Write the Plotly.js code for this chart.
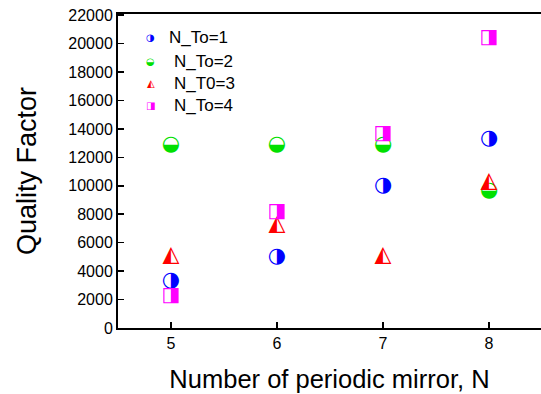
<!DOCTYPE html>
<html><head><meta charset="utf-8">
<script src="https://cdn.plot.ly/plotly-3.0.1.min.js"></script>
<style>html,body{margin:0;padding:0;background:#fff}#c{width:541px;height:394px}</style>
</head><body><div id="c"></div>
<script>
const periods = [5, 6, 7, 8];
const qTo1 = [3300, 5000, 10000, 13300];
const qTo2 = [12900, 12900, 12900, 9650];
const qTo3 = [5100, 7250, 5100, 10300];
const qTo4 = [2250, 8170, 13650, 20400];
const seriesNames = ['N_To=1', 'N_To=2', 'N_T0=3', 'N_To=4'];
const seriesGlyphs = ['\u25D1', '\u25D2', '\u25ED', '\u25E8'];
const seriesColors = ['#0000ff', '#00e000', '#ff0000', '#ff00ff'];
const seriesSizes = [21, 21, 22, 20];
const yTicks = [0,2000,4000,6000,8000,10000,12000,14000,16000,18000,20000,22000];

const allQ = [qTo1, qTo2, qTo3, qTo4];
const traces = allQ.map((q, i) => ({
  x: periods, y: q, mode: 'text', type: 'scatter',
  text: periods.map(() => seriesGlyphs[i]),
  textposition: 'middle center',
  textfont: {family: 'DejaVu Sans', size: seriesSizes[i], color: seriesColors[i]},
  name: seriesNames[i], showlegend: false, hoverinfo: 'skip'
}));

const legY = [0.925, 0.848, 0.778, 0.708];
const legX = [0.116, 0.128, 0.128, 0.128];
const annotations = [];
seriesNames.forEach((n, i) => {
  annotations.push({xref: 'paper', yref: 'paper', x: 0.078, y: legY[i], text: seriesGlyphs[i],
    showarrow: false, xanchor: 'center', yanchor: 'middle',
    font: {family: 'DejaVu Sans', size: 10, color: seriesColors[i]}});
  annotations.push({xref: 'paper', yref: 'paper', x: legX[i], y: legY[i], text: n,
    showarrow: false, xanchor: 'left', yanchor: 'middle',
    font: {family: 'Liberation Sans, Arial, sans-serif', size: 17, color: '#000'}});
});

const layout = {
  width: 541, height: 394,
  margin: {l: 118, r: 0, t: 14, b: 66},
  paper_bgcolor: '#fff', plot_bgcolor: '#fff',
  showlegend: false,
  font: {family: 'Liberation Sans, Arial, sans-serif', color: '#000'},
  xaxis: {
    range: [4.5, 8.49], tickvals: periods, ticktext: periods.map(String),
    ticks: 'inside', ticklen: 6, tickwidth: 1.5, tickcolor: '#000',
    showline: true, linewidth: 2, linecolor: '#000', mirror: true,
    showgrid: false, zeroline: false,
    tickfont: {size: 16},
    title: {text: 'Number of periodic mirror, N', font: {size: 25.5}, standoff: 19}
  },
  yaxis: {
    range: [0, 22080], tickvals: yTicks, ticktext: yTicks.map(String),
    ticks: 'inside', ticklen: 6, tickwidth: 1.5, tickcolor: '#000',
    showline: true, linewidth: 2, linecolor: '#000', mirror: false,
    showgrid: false, zeroline: false,
    tickfont: {size: 16},
    title: {text: 'Quality Factor', font: {size: 27}, standoff: 24}
  },
  annotations: annotations
};
Plotly.newPlot('c', traces, layout, {staticPlot: true, displayModeBar: false});
</script></body></html>
